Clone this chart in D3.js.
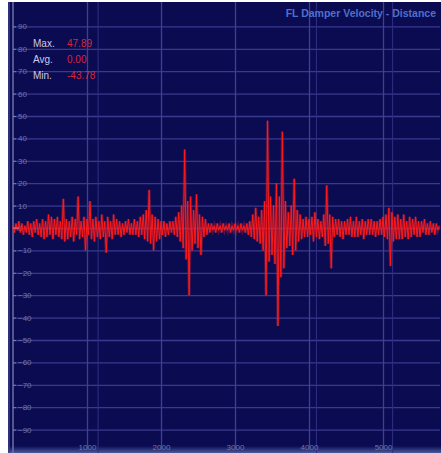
<!DOCTYPE html>
<html>
<head>
<meta charset="utf-8">
<script src="https://cdn.jsdelivr.net/npm/d3@7"></script>
<style>
  html, body { margin: 0; padding: 0; background: #fff; }
  svg { display: block; font-family: 'Liberation Sans', Arial, sans-serif; }
</style>
</head>
<body>
<div id="chart"></div>
<script>
// damper velocity samples, one every 20 mm of distance
const sampleStep = 20
const velocity = [
  1, -2, 2, -1, 3, -2, 2, -3, 1, -2,
  3, -3, 2, -4, 3, -2, 4, -3, 2, -4,
  4, -5, 3, -4, 6, -3, 5, -5, 4, -3,
  5, -4, 3, -5, 13, -6, 4, -5, 3, -4,
  5, -6, 4, -3, 14, -5, 3, -4, 5, -10,
  4, -3, 12, -5, 4, -6, 5, -4, 3, -5,
  6, -4, 3, -11, 5, -4, 3, -5, 6, -3,
  4, -3, 3, -4, 2, -3, 3, -2, 4, -3,
  2, -3, 4, -3, 3, -4, 5, -3, 6, -5,
  8, -6, 17, -7, 6, -10, 5, -6, 4, -5,
  3, -3, 3, -4, 2, -3, 3, -2, 3, -3,
  5, -4, 7, -6, 10, -9, 35, -14, 12, -30,
  14, -10, 8, -7, 15, -9, 6, -12, 5, -4,
  4, -3, 2, -2, 2, -1, 1, -2, 2, -1,
  1, -2, 2, -1, 1, -1, 2, -2, 1, -1,
  2, -1, 1, -2, 2, -1, 1, -2, 2, -3,
  3, -4, 6, -5, 9, -6, 5, -7, 8, -10,
  12, -30, 47.89, -15, 14, -12, 10, -16, 20, -43.78,
  14, -22, 43, -18, 12, -9, 7, -8, 10, -12,
  22, -10, 8, -6, 6, -5, 4, -4, 5, -4,
  4, -3, 5, -6, 7, -4, 4, -5, 3, -4,
  6, -8, 19, -7, 6, -18, 5, -4, 4, -3,
  4, -4, 3, -5, 3, -3, 4, -3, 5, -4,
  3, -4, 5, -4, 3, -3, 4, -5, 3, -3,
  4, -3, 4, -3, 3, -4, 3, -3, 4, -3,
  5, -4, 6, -5, 9, -17, 7, -6, 5, -5,
  6, -5, 4, -5, 6, -4, 3, -5, 5, -4,
  4, -3, 5, -4, 3, -4, 3, -2, 4, -3,
  2, -3, 3, -2, 2, -3, 2, -1, 1
]

const yTicks = [90, 80, 70, 60, 50, 40, 30, 20, 10, 0, -10, -20, -30, -40, -50, -60, -70, -80, -90]
const xTicks = [1000, 2000, 3000, 4000, 5000]
const markerDistances = [1150, 4100, 5130]
const statLabels = ['Max.', 'Avg.', 'Min.']
const statValues = ['47.89', '0.00', '-43.78']
const title = 'FL Damper Velocity - Distance'

const width = 441
const height = 453

const svg = d3.select('#chart').append('svg')
  .attr('width', width)
  .attr('height', height)

const defs = svg.append('defs')
const grad = defs.append('linearGradient')
  .attr('id', 'foot').attr('x1', 0).attr('y1', 0).attr('x2', 0).attr('y2', 1)
grad.append('stop').attr('offset', '0%').attr('stop-color', '#0b0b52')
grad.append('stop').attr('offset', '100%').attr('stop-color', '#4a5a9c')
defs.append('filter').attr('id', 'soft')
  .append('feGaussianBlur').attr('stdDeviation', 0.6)

// panel
svg.append('rect')
  .attr('x', 8).attr('y', 2)
  .attr('width', width - 8).attr('height', height - 2)
  .attr('fill', '#0b0b52')
svg.append('rect')
  .attr('x', 8).attr('y', 446)
  .attr('width', width - 8).attr('height', 7)
  .attr('fill', 'url(#foot)')

const x = d3.scaleLinear().domain([0, 5770]).range([13, 440])
const y = d3.scaleLinear().domain([-100, 100]).range([452, 4])

// horizontal grid
svg.append('g')
  .attr('transform', `translate(${x(0)},0)`)
  .call(d3.axisRight(y).tickValues(yTicks).tickSize(x.range()[1] - x(0)).tickFormat(''))
  .call((g) => g.select('.domain').remove())
  .call((g) => g.selectAll('line').attr('stroke', '#383a8e').attr('stroke-width', 1.3))

// vertical grid
svg.append('g')
  .attr('transform', `translate(0,${y(-100)})`)
  .call(d3.axisTop(x).tickValues(xTicks).tickSize(y(-100) - 2).tickFormat(''))
  .call((g) => g.select('.domain').remove())
  .call((g) => g.selectAll('line').attr('stroke', '#3e4092').attr('stroke-width', 1.3))

svg.append('g')
  .selectAll('line')
  .data(markerDistances)
  .join('line')
  .attr('x1', (d) => x(d)).attr('x2', (d) => x(d))
  .attr('y1', 2).attr('y2', height)
  .attr('stroke', '#2e2f84')

// left axis
svg.append('line')
  .attr('x1', x(0)).attr('x2', x(0))
  .attr('y1', 2).attr('y2', height)
  .attr('stroke', '#6c6fa8').attr('stroke-width', 1.5)
svg.append('line')
  .attr('x1', 9).attr('x2', 9)
  .attr('y1', 2).attr('y2', height)
  .attr('stroke', '#3a3c88').attr('stroke-width', 1.5)

const yAxis = svg.append('g')
  .attr('transform', `translate(${x(0)},0)`)
  .call(d3.axisRight(y).tickValues(yTicks).tickSize(3).tickPadding(2))
yAxis.select('.domain').remove()
yAxis.selectAll('line').attr('stroke', '#7a7db0')
yAxis.selectAll('text')
  .attr('fill', '#7174aa')
  .attr('font-size', 8)

const xAxis = svg.append('g')
  .attr('transform', `translate(0,${y(-97.5)})`)
  .call(d3.axisTop(x).tickValues(xTicks).tickSize(0).tickPadding(-4).tickFormat(d3.format('d')))
xAxis.select('.domain').remove()
xAxis.selectAll('text')
  .attr('fill', '#7174aa')
  .attr('font-size', 8)

// trace
const line = d3.line()
  .x((d, i) => x(i * sampleStep))
  .y((d) => y(d))

svg.append('path')
  .datum(velocity)
  .attr('d', line)
  .attr('fill', 'none')
  .attr('stroke', '#ff2020')
  .attr('stroke-width', 3)
  .attr('stroke-opacity', 0.3)
  .attr('filter', 'url(#soft)')

svg.append('path')
  .datum(velocity)
  .attr('d', line)
  .attr('fill', 'none')
  .attr('stroke', '#ff1a1a')
  .attr('stroke-width', 1)
  .attr('stroke-linejoin', 'round')

// zero marker
svg.append('line')
  .attr('x1', x(0)).attr('x2', x(0) + 6)
  .attr('y1', y(0)).attr('y2', y(0))
  .attr('stroke', '#ff6a6a')

// stats
const stats = svg.append('g')
stats.selectAll('text.label')
  .data(statLabels)
  .join('text')
  .attr('class', 'label')
  .attr('x', 33)
  .attr('y', (d, i) => 47 + i * 16)
  .attr('font-size', 10)
  .attr('fill', '#c9cbe6')
  .text((d) => d)
stats.selectAll('text.value')
  .data(statValues)
  .join('text')
  .attr('class', 'value')
  .attr('x', 67)
  .attr('y', (d, i) => 47 + i * 16)
  .attr('font-size', 10)
  .attr('fill', '#d8263a')
  .text((d) => d)

svg.append('text')
  .attr('x', 436)
  .attr('y', 17)
  .attr('text-anchor', 'end')
  .attr('font-size', 10.5)
  .attr('font-weight', 'bold')
  .attr('fill', '#4f6fcc')
  .text(title)
</script>
</body>
</html>
